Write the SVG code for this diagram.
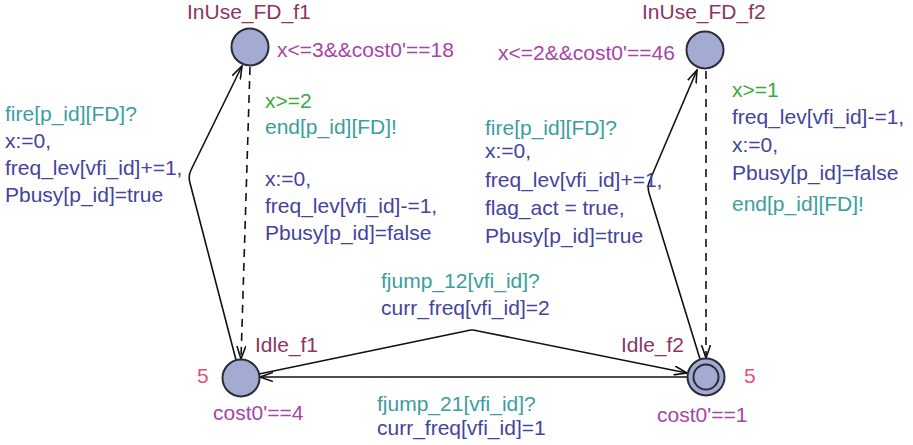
<svg xmlns="http://www.w3.org/2000/svg" width="913" height="445" viewBox="0 0 913 445">
  <style>
    text { font-family: "Liberation Sans", Arial, sans-serif; font-size: 21px; }
    .loc { fill: #8c3564; }
    .inv { fill: #a744a8; }
    .cost { fill: #e0507c; }
    .sync { fill: #3a9e9e; }
    .upd { fill: #4343a0; }
    .grd { fill: #3ea83e; }
    .state { fill: #a3abd3; stroke: #2a2a38; stroke-width: 2; }
    .edge { fill: none; stroke: #111; stroke-width: 1.6; }
    .dash { stroke-dasharray: 8 6; }
  </style>
  <defs>
    <marker id="arr" viewBox="0 0 14 10" refX="13" refY="5" markerWidth="14" markerHeight="10" markerUnits="userSpaceOnUse" orient="auto">
      <path d="M0,0.5 L13,5 L0,9.5" fill="none" stroke="#111" stroke-width="1.6"/>
    </marker>
  </defs>

  <!-- transitions -->
  <g id="edges">
    <!-- Idle_f1 -> InUse_FD_f1 -->
    <path class="edge" d="M236,360 L190,183 Q188,176 191,170 L242,66" marker-end="url(#arr)"/>
    <!-- InUse_FD_f1 -> Idle_f1 -->
    <path class="edge dash" d="M250,67 L241,359" marker-end="url(#arr)"/>
    <!-- Idle_f2 -> InUse_FD_f2 -->
    <path class="edge" d="M700,359 L649,193 Q647,186 650,180 L697,70" marker-end="url(#arr)"/>
    <!-- InUse_FD_f2 -> Idle_f2 -->
    <path class="edge dash" d="M706,71 L706,358" marker-end="url(#arr)"/>
    <!-- Idle_f1 -> Idle_f2 -->
    <path class="edge" d="M259,374 L466,331 Q472,329 478,331 L687,373" marker-end="url(#arr)"/>
    <!-- Idle_f2 -> Idle_f1 -->
    <path class="edge" d="M687,377 L260,377" marker-end="url(#arr)"/>
  </g>

  <!-- edge labels -->
  <g id="labels">
    <text class="sync" x="5" y="121">fire[p_id][FD]?</text>
    <text class="upd" x="5" y="148">x:=0,</text>
    <text class="upd" x="5" y="175">freq_lev[vfi_id]+=1,</text>
    <text class="upd" x="5" y="202">Pbusy[p_id]=true</text>

    <text class="grd" x="265" y="108">x&gt;=2</text>
    <text class="sync" x="265" y="134">end[p_id][FD]!</text>
    <text class="upd" x="265" y="186">x:=0,</text>
    <text class="upd" x="265" y="213">freq_lev[vfi_id]-=1,</text>
    <text class="upd" x="265" y="240">Pbusy[p_id]=false</text>

    <text class="sync" x="485" y="135">fire[p_id][FD]?</text>
    <text class="upd" x="485" y="158">x:=0,</text>
    <text class="upd" x="485" y="187">freq_lev[vfi_id]+=1,</text>
    <text class="upd" x="485" y="215">flag_act = true,</text>
    <text class="upd" x="485" y="243">Pbusy[p_id]=true</text>

    <text class="grd" x="732" y="97">x&gt;=1</text>
    <text class="upd" x="732" y="124">freq_lev[vfi_id]-=1,</text>
    <text class="upd" x="732" y="152">x:=0,</text>
    <text class="upd" x="732" y="180">Pbusy[p_id]=false</text>
    <text class="sync" x="732" y="211">end[p_id][FD]!</text>

    <text class="sync" x="381" y="288">fjump_12[vfi_id]?</text>
    <text class="upd" x="381" y="315">curr_freq[vfi_id]=2</text>

    <text class="sync" x="377" y="411">fjump_21[vfi_id]?</text>
    <text class="upd" x="377" y="435">curr_freq[vfi_id]=1</text>
  </g>

  <!-- locations -->
  <g id="InUse_FD_f1">
    <circle class="state" cx="250" cy="47" r="18.5"/>
    <text class="loc" x="187" y="19">InUse_FD_f1</text>
    <text class="inv" x="277" y="57">x&lt;=3&amp;&amp;cost0'==18</text>
  </g>
  <g id="InUse_FD_f2">
    <circle class="state" cx="705" cy="50" r="18.5"/>
    <text class="loc" x="642" y="19">InUse_FD_f2</text>
    <text class="inv" x="498" y="60">x&lt;=2&amp;&amp;cost0'==46</text>
  </g>
  <g id="Idle_f1">
    <circle class="state" cx="241" cy="378" r="18.5"/>
    <text class="loc" x="255" y="352">Idle_f1</text>
    <text class="cost" x="197" y="383">5</text>
    <text class="inv" x="213" y="420">cost0'==4</text>
  </g>
  <g id="Idle_f2">
    <circle class="state" cx="706" cy="377" r="18.5"/>
    <circle cx="706" cy="377" r="12.5" fill="none" stroke="#2a2a38" stroke-width="2"/>
    <text class="loc" x="621" y="352">Idle_f2</text>
    <text class="cost" x="744" y="383">5</text>
    <text class="inv" x="657" y="422">cost0'==1</text>
  </g>
</svg>
